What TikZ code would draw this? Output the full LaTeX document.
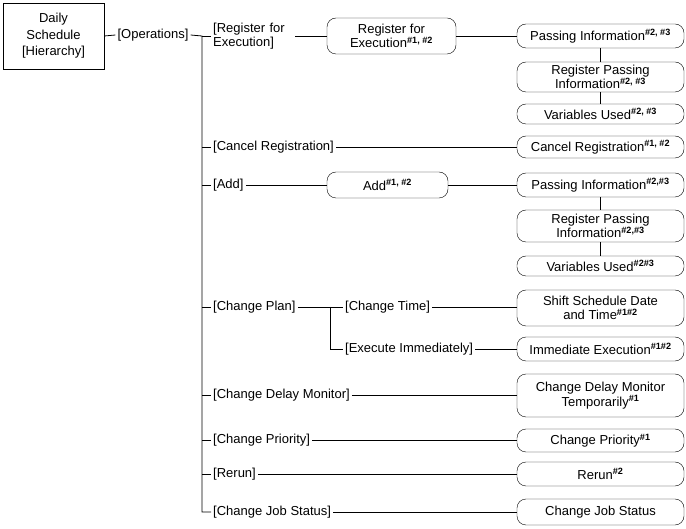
\documentclass[tikz,border=0pt]{standalone}
\usepackage{fontspec}
\setmainfont{Liberation Sans}
\usetikzlibrary{positioning}

\newcommand{\fnote}[1]{\textsuperscript{\bfseries #1}}

\begin{document}
\begin{tikzpicture}[x=1pt,y=-1pt]
  \tikzset{
    every node/.style={font=\fontsize{13}{14.5}\selectfont,inner sep=2pt},
    rootbox/.style={draw,rectangle,minimum width=101pt,minimum height=66pt,align=center,font=\fontsize{13}{16.5}\selectfont},
    midbox/.style={draw,rounded corners=9pt,minimum width=#1,align=center},
    leafbox/.style={draw,rounded corners=9pt,minimum width=167pt,align=center},
    branch/.style={anchor=west,align=left},
    conn/.style={line width=0.8pt}
  }
  \useasboundingbox (0,0) rectangle (686,529);

%%%%%%%%%%%%%%%%%%%%%%%%%%
  \node[rootbox] (Root) at (53.5,36) {Daily\\Schedule\\{[Hierarchy]}};
  \node (NOperations) at (153,35) {[Operations]};
  \coordinate (TrunkTop) at (202,36);

%%%%%%%%%%%%%%%%%%%%%%%%%%
% branches
  \node[branch,text width=80pt] (LRegExec) at (211,36) {[Register for\\Execution]};
  \node[branch] (LCancel) at (211,147) {[Cancel Registration]};
  \node[branch] (LAdd) at (211,185) {[Add]};
  \node[branch] (LChangePlan) at (211,307) {[Change Plan]};
  \node[branch] (LDelayMon) at (211,395) {[Change Delay Monitor]};
  \node[branch] (LPriority) at (211,440) {[Change Priority]};
  \node[branch] (LRerun) at (211,474) {[Rerun]};
  \node[branch] (LJobStatus) at (211,512) {[Change Job Status]};

  \coordinate (PlanFork) at (330,307);
  \node[branch] (LChangeTime) at (343,307) {[Change Time]};
  \node[branch] (LExecImm) at (343,349) {[Execute Immediately]};

%%%%%%%%%%%%%%%%%%%%%%%%%%
% boxes
  \node[midbox=129pt,minimum height=36pt] (BRegExec) at (391.5,36) {Register for\\Execution\fnote{\#1, \#2}};
  \node[midbox=121pt,minimum height=26pt] (BAdd) at (387.5,185) {Add\fnote{\#1, \#2}};

  \node[leafbox,minimum height=24pt] (BPass1) at (600.5,36) {Passing Information\fnote{\#2, \#3}};
  \node[leafbox,minimum height=30pt] (BRegPass1) at (600.5,77) {Register Passing\\Information\fnote{\#2, \#3}};
  \node[leafbox,minimum height=20pt] (BVars1) at (600.5,114) {Variables Used\fnote{\#2, \#3}};
  \node[leafbox,minimum height=22pt] (BCancel) at (600.5,147) {Cancel Registration\fnote{\#1, \#2}};
  \node[leafbox,minimum height=24pt] (BPass2) at (600.5,185) {Passing Information\fnote{\#2,\#3}};
  \node[leafbox,minimum height=32pt] (BRegPass2) at (600.5,226) {Register Passing\\Information\fnote{\#2,\#3}};
  \node[leafbox,minimum height=20pt] (BVars2) at (600.5,266) {Variables Used\fnote{\#2\#3}};
  \node[leafbox,minimum height=36pt] (BShift) at (600.5,308) {Shift Schedule Date\\and Time\fnote{\#1\#2}};
  \node[leafbox,minimum height=24pt] (BImmExec) at (600.5,349) {Immediate Execution\fnote{\#1\#2}};
  \node[leafbox,minimum height=43pt] (BDelayMon) at (600.5,395.5) {Change Delay Monitor\\Temporarily\fnote{\#1}};
  \node[leafbox,minimum height=23pt] (BPriority) at (600.5,440.5) {Change Priority\fnote{\#1}};
  \node[leafbox,minimum height=24pt] (BRerun) at (600.5,474) {Rerun\fnote{\#2}};
  \node[leafbox,minimum height=26pt] (BJobStatus) at (600.5,512) {Change Job Status};

%%%%%%%%%%%%%%%%%%%%%%%%%%
% connectors
  \draw[conn] (Root.east) -- (NOperations.west);
  \draw[conn] (NOperations.east) -- (TrunkTop) |- (LJobStatus.west);
  \foreach \b in {LRegExec,LCancel,LAdd,LChangePlan,LDelayMon,LPriority,LRerun}
    \draw[conn] (TrunkTop |- \b.west) -- (\b.west);

  \draw[conn] (LChangePlan.east) -- (LChangeTime.west);
  \draw[conn] (PlanFork) |- (LExecImm.west);

  % label -> box, kept level with the label
  \foreach \l/\b in {LRegExec/BRegExec,BRegExec/BPass1,LCancel/BCancel,LAdd/BAdd,BAdd/BPass2,
                     LChangeTime/BShift,LExecImm/BImmExec,LDelayMon/BDelayMon,LPriority/BPriority,
                     LRerun/BRerun,LJobStatus/BJobStatus}
    \draw[conn] (\l.east) -- (\l.east -| \b.west);

  \draw[conn] (BPass1.south) -- (BRegPass1.north);
  \draw[conn] (BRegPass1.south) -- (BVars1.north);
  \draw[conn] (BPass2.south) -- (BRegPass2.north);
  \draw[conn] (BRegPass2.south) -- (BVars2.north);

\end{tikzpicture}
\end{document}
